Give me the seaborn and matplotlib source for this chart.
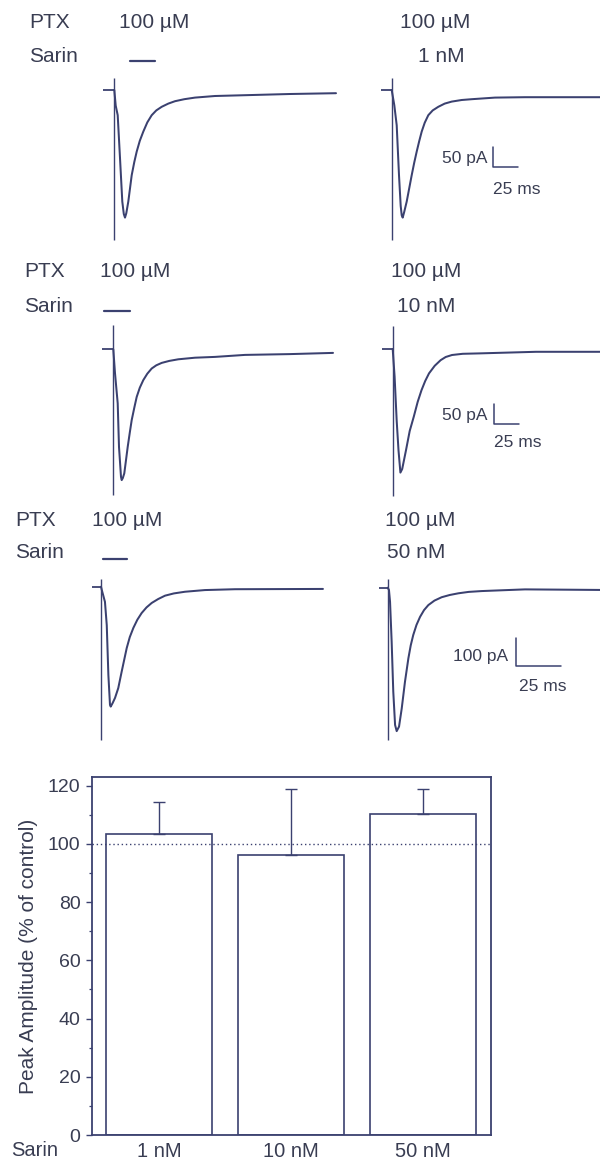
import matplotlib
matplotlib.use("Agg")
import matplotlib.pyplot as plt
from matplotlib.lines import Line2D
from matplotlib.ticker import MultipleLocator
import numpy as np
import pandas as pd
import seaborn as sns

sns.set_style("ticks")
plt.rcParams["font.family"] = ["Liberation Sans", "DejaVu Sans"]

W, H = 600, 1162
INK = "#3b4170"
TEXT = "#393d52"

# ---- evoked currents: time after stimulus (ms), current re. baseline (pA)
# row 1: PTX 100 uM, control / sarin 1 nM
t1 = [0, 1.4, 3.4, 5.7, 8.0, 9.5, 10.7, 12.0, 14.0, 17.4, 20.0, 22.4, 25.5, 29.0, 33.0, 37.4,
      42.0, 47.4, 54.0, 60.7, 70.0, 80.7, 100.7, 130.7, 175.7, 221.7]
i1 = [0, -39, -63, -170, -279, -310, -319, -308, -279, -213, -180, -154, -127, -104, -81, -63,
      -51, -42, -34, -28, -23, -19, -15, -13, -10, -8]
t2 = [0, 2.6, 5.0, 7.3, 9.0, 10.0, 11.0, 12.5, 15.0, 20.0, 22.5, 25.0, 27.5, 30.0, 33.0, 36.6,
      41.0, 46.6, 53.0, 60.0, 70.0, 80.0, 103.3, 133.3, 208.3, 222.0]
i2 = [0, -38, -88, -213, -290, -313, -319, -305, -279, -213, -182, -154, -128, -104, -82, -63,
      -51, -42, -34, -29, -25, -23, -19, -18, -18, -17]
# row 2: PTX 100 uM, control / sarin 10 nM
t3 = [0, 1.7, 4.4, 5.7, 7.7, 8.4, 9.5, 11.0, 14.4, 16.5, 18.4, 21.0, 23.4, 26.5, 30.0, 34.0,
      38.4, 43.0, 48.4, 56.0, 65.0, 81.7, 101.7, 131.7, 176.7, 219.7]
i3 = [0, -60, -135, -244, -319, -327, -322, -310, -244, -208, -177, -146, -119, -96, -77, -61,
      -48, -40, -34, -29, -25, -21, -19, -14, -12, -9]
t4 = [0, 1.9, 4.0, 5.8, 7.7, 9.5, 13.3, 17.0, 21.1, 25.0, 28.8, 32.5, 36.3, 42.0, 47.9, 53.0,
      59.3, 70.0, 86.3, 143.3, 207.3, 222.0]
i4 = [0, -69, -180, -253, -309, -300, -253, -205, -169, -132, -103, -80, -61, -42, -28, -20,
      -15, -12, -11, -7, -7, -7]
# row 3: PTX 100 uM, control / sarin 50 nM
t5 = [0, 0.7, 2.2, 3.2, 4.1, 5.0, 5.4, 6.5, 7.8, 9.6, 11.5, 13.0, 14.3, 16.0, 18.0, 20.2,
      22.6, 25.3, 28.2, 31.8, 35.6, 40.5, 46.7, 57.8, 74.5, 123.4]
i5 = [0, -18, -54, -137, -315, -422, -428, -415, -397, -362, -303, -258, -219, -180, -147, -118,
      -94, -74, -58, -44, -32, -24, -18, -12, -9, -8]
t6 = [0, 0.7, 1.3, 2.2, 3.1, 4.1, 5.0, 6.3, 7.8, 9.6, 11.5, 12.8, 14.2, 16.0, 18.0, 20.2,
      22.6, 26.0, 30.0, 34.5, 39.3, 45.0, 52.3, 76.3, 118.0, 123.4]
i6 = [0, -8, -50, -193, -371, -490, -512, -496, -431, -336, -252, -206, -169, -133, -104, -80,
      -62, -46, -34, -26, -20, -15, -12, -6, -8, -8]

# stimulus artifact extent (pA) for each trace
artifact_top = [30, 30, 61, 58, 27, 31]
artifact_bottom = [-375, -375, -364, -368, -548, -543]

# scale bars per row
scale_pa = [50, 50, 100]
scale_ms = [25, 25, 25]

# ---- summary: peak amplitude, % of control
conc_labels = ["1 nM", "10 nM", "50 nM"]
peak_mean = [103.4, 96.2, 110.4]
peak_sem = [11.0, 22.6, 8.4]
control_level = 100

fig = plt.figure(figsize=(W / 100, H / 100), dpi=100)


def fx(x):
    return x / W


def fy(y):
    return 1 - y / H


def label(x, y, s, size=15, ha="left"):
    fig.text(fx(x), fy(y), s, ha=ha, va="baseline", fontsize=size, color=TEXT)


def trace_axes(x0, y0, ms_px, pa_px, tlim, ilim):
    left = x0 + tlim[0] / ms_px
    width = (tlim[1] - tlim[0]) / ms_px
    top = y0 - ilim[1] / pa_px
    height = (ilim[1] - ilim[0]) / pa_px
    ax = fig.add_axes([fx(left), fy(top + height), width / W, height / H])
    ax.set_xlim(tlim)
    ax.set_ylim(ilim)
    ax.axis("off")
    return ax


def draw_trace(ax, t, i, k, pre):
    lims = ax.get_xlim(), ax.get_ylim()
    ax.plot([-pre, 0], [0, 0], color=INK, lw=1.3, solid_capstyle="butt")
    ax.vlines(0, artifact_bottom[k], artifact_top[k], color=INK, lw=1.0)
    df = pd.DataFrame({"t": t, "i": i})
    sns.lineplot(data=df, x="t", y="i", ax=ax, color=INK, lw=1.45,
                 sort=False, estimator=None)
    for line in ax.get_lines():
        line.set_solid_joinstyle("round")
    ax.set_xlim(lims[0])
    ax.set_ylim(lims[1])
    ax.axis("off")


def scale_bar(ax, t0, i0, k):
    ax.plot([t0, t0, t0 + scale_ms[k]], [i0 + scale_pa[k], i0, i0],
            color=INK, lw=1.1, clip_on=False)


traces = [(t1, i1), (t2, i2), (t3, i3), (t4, i4), (t5, i5), (t6, i6)]

# panel origins (pixel position of stimulus / baseline)
origins = [(114.3, 90), (391.7, 90), (113.3, 349.3), (392.7, 349), (101, 586.7), (387.7, 587.7)]
row_ms_px = [1.0, 1.0, 0.556]
row_pa_px = [2.5, 2.5, 3.57]
row_tlim = [(-15, 230), (-15, 230), (-8, 130)]
row_ilim = [(-400, 80), (-400, 80), (-560, 40)]
row_pre = [11, 11, 5]

axes = []
for k, (t, i) in enumerate(traces):
    r = k // 2
    x0, y0 = origins[k]
    ax = trace_axes(x0, y0, row_ms_px[r], row_pa_px[r], row_tlim[r], row_ilim[r])
    draw_trace(ax, t, i, k, row_pre[r])
    axes.append(ax)

# scale bars in the right-hand panels (corner in ms / pA)
corners = [(101.3, -192.5), (101.3, -187.5), (71.3, -279.5)]
for r, (tc, ic) in enumerate(corners):
    scale_bar(axes[2 * r + 1], tc, ic, r)

label(487, 163, f"{scale_pa[0]} pA", size=12.5, ha="right")
label(493, 194, f"{scale_ms[0]} ms", size=12.5)
label(487, 420, f"{scale_pa[1]} pA", size=12.5, ha="right")
label(494, 447, f"{scale_ms[1]} ms", size=12.5)
label(508, 661, f"{scale_pa[2]} pA", size=12.5, ha="right")
label(519, 691, f"{scale_ms[2]} ms", size=12.5)

# condition labels
rows_txt = [
    dict(ptx=(29, 28), mid=119, sar=(29, 62), right=400, conc=(418, 62, "1 nM"), dash=(129.5, 155, 61)),
    dict(ptx=(24, 277), mid=100, sar=(24, 312), right=391, conc=(397, 312, "10 nM"), dash=(104, 130, 311)),
    dict(ptx=(15, 526), mid=92, sar=(15, 558), right=385, conc=(387, 558, "50 nM"), dash=(103, 127, 559)),
]
for d in rows_txt:
    px, py = d["ptx"]
    label(px, py, "PTX")
    label(d["mid"], py, "100 \u00b5M")
    label(d["right"], py, "100 \u00b5M")
    sx, sy = d["sar"]
    label(sx, sy, "Sarin")
    cx, cy, cs = d["conc"]
    label(cx, cy, cs)
    a, b, y = d["dash"]
    fig.add_artist(Line2D([fx(a), fx(b)], [fy(y), fy(y)], color=INK, lw=1.6))

# ---- bar chart
axb = fig.add_axes([fx(91.7), fy(1135), 399 / W, 358 / H])
sns.barplot(x=conc_labels, y=peak_mean, color="white", edgecolor=INK,
            linewidth=1.2, width=0.8, errorbar=None, ax=axb)
for p in axb.patches:
    p.set_facecolor("white")
axb.errorbar(range(len(peak_mean)), peak_mean,
             yerr=[np.zeros(len(peak_sem)), peak_sem],
             fmt="none", ecolor=INK, elinewidth=1.0, capsize=4, capthick=1.0)
# control level, dotted across the whole plot (over the bars)
axb.axhline(control_level, color=INK, lw=1.0, ls=(0, (1, 2)), zorder=5)
axb.set_xlim(-0.51, 2.51)
axb.set_ylim(0, 123)
axb.yaxis.set_major_locator(MultipleLocator(20))
axb.yaxis.set_minor_locator(MultipleLocator(10))
axb.tick_params(axis="y", which="major", direction="out", length=4, width=1.0,
                color=INK, labelsize=14, labelcolor=TEXT, pad=4)
axb.tick_params(axis="y", which="minor", direction="out", length=2.2, width=0.9, color=INK)
axb.tick_params(axis="x", length=0, labelsize=14.5, labelcolor=TEXT, pad=5)
for s in axb.spines.values():
    s.set_visible(True)
    s.set_color(INK)
    s.set_linewidth(1.3)
axb.set_xlabel("")
axb.set_ylabel("Peak Amplitude (% of control)", fontsize=15, color=TEXT)
axb.yaxis.set_label_coords(-0.135, 0.5)
label(11, 1156, "Sarin", size=14.5)

fig.savefig("out.png", dpi=100)
